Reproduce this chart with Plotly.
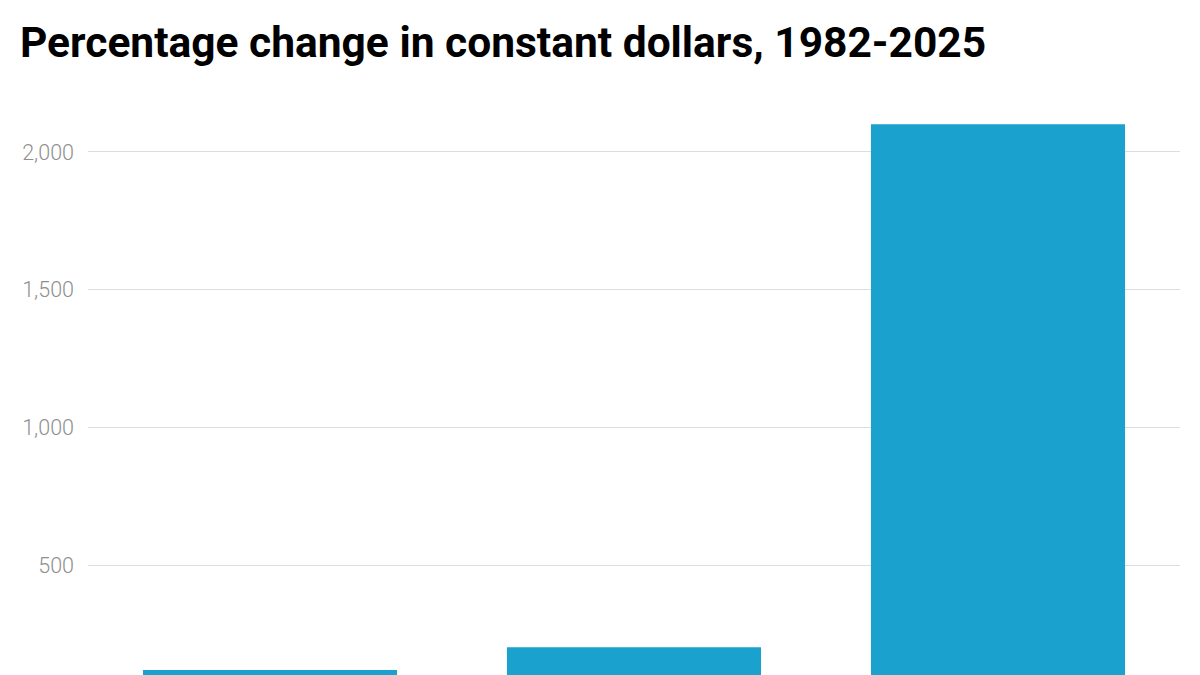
import plotly.graph_objects as go

categories = ["Category A", "Category B", "Category C"]
values = [122, 204, 2101]
tick_vals = [500, 1000, 1500, 2000]
tick_text = ["500", "1,000", "1,500", "2,000"]

fig = go.Figure(go.Bar(
    x=categories, y=values,
    marker=dict(color="#1ba1ce", line=dict(width=0)),
    hoverinfo="skip",
))

fig.update_layout(
    width=1200, height=675,
    margin=dict(l=88, r=20, t=100, b=0),
    paper_bgcolor="white", plot_bgcolor="white",
    bargap=0.302,
    showlegend=False,
    title=dict(
        text="<b>Percentage change in constant dollars, 1982-2025</b>",
        x=0, xref="paper", xanchor="left", y=1, yref="container", yanchor="top",
        pad=dict(t=27, l=-68),
        font=dict(family="Roboto", size=42.5, color="#000000"),
    ),
    font=dict(family="Roboto"),
)
fig.update_xaxes(showticklabels=False, showgrid=False, zeroline=False, showline=False)
fig.update_yaxes(
    range=[103.7, 2188.5],
    tickvals=tick_vals, ticktext=tick_text,
    showgrid=True, gridcolor="#dddddd", gridwidth=1,
    zeroline=False, showline=False,
    tickfont=dict(family="Roboto", size=21.5, color="#8f8f8f", weight=300),
    ticks="", ticklabelstandoff=13,
)

fig.write_html("out.html")
